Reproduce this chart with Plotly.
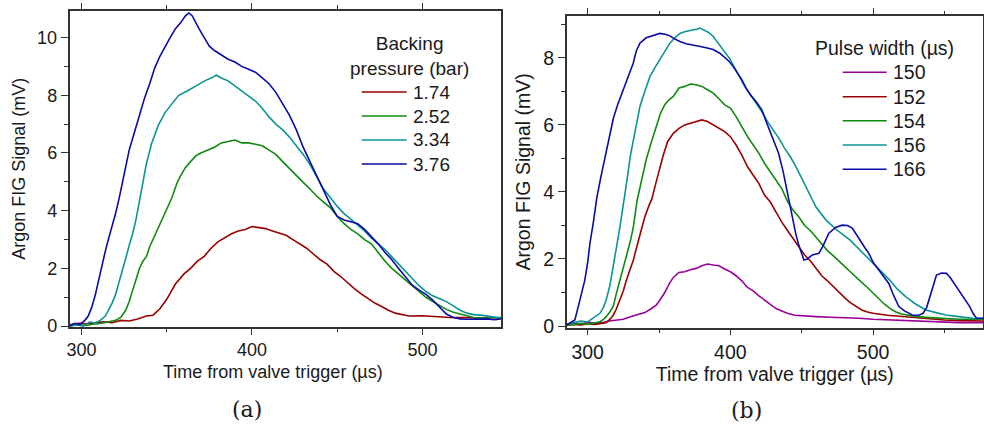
import plotly.graph_objects as go

# ---------------- data: panel (a) backing pressure ----------------
pressure_labels = ["1.74", "2.52", "3.34", "3.76"]

t_a_174 = [293, 298, 303, 308, 313, 318, 323, 328, 333, 338, 342, 346, 350, 355, 360, 364, 368, 372, 376, 380,
           384, 388, 392, 396, 400, 404, 408, 412, 416, 420, 424, 428, 432, 436, 440, 444, 448, 452, 456, 460,
           464, 468, 472, 476, 480, 484, 488, 492, 500, 508, 516, 524, 532, 540, 546]
v_a_174 = [0.05, 0.10, 0.08, 0.12, 0.15, 0.12, 0.20, 0.18, 0.25, 0.35, 0.38, 0.60, 0.93, 1.45, 1.80, 2.00, 2.25, 2.42, 2.70, 2.92,
           3.05, 3.20, 3.30, 3.35, 3.45, 3.42, 3.38, 3.30, 3.22, 3.15, 3.00, 2.85, 2.70, 2.50, 2.30, 2.15, 1.90, 1.72, 1.50, 1.30,
           1.12, 0.95, 0.80, 0.68, 0.55, 0.45, 0.40, 0.35, 0.36, 0.33, 0.30, 0.30, 0.28, 0.30, 0.28]

t_a_252 = [293, 298, 303, 308, 312, 316, 320, 323, 326, 328, 330, 332, 334, 336, 338, 340, 342, 345, 348, 350,
           353, 356, 358, 361, 364, 367, 370, 374, 378, 382, 386, 390, 394, 398, 402, 406, 410, 414, 418, 422,
           426, 430, 434, 438, 442, 446, 450, 454, 458, 462, 466, 470, 474, 478, 482, 486, 490, 494, 498, 502,
           506, 510, 514, 518, 522, 526, 530, 536, 542, 546]
v_a_252 = [0.00, 0.05, 0.02, 0.08, 0.10, 0.15, 0.20, 0.30, 0.55, 0.85, 1.25, 1.65, 2.00, 2.25, 2.40, 2.75, 3.00, 3.40, 3.75, 4.05,
           4.45, 4.95, 5.20, 5.50, 5.70, 5.90, 6.00, 6.10, 6.20, 6.35, 6.40, 6.45, 6.35, 6.35, 6.30, 6.25, 6.10, 5.95, 5.70, 5.45,
           5.20, 4.98, 4.75, 4.50, 4.30, 4.10, 3.80, 3.55, 3.35, 3.20, 3.00, 2.85, 2.55, 2.25, 2.00, 1.80, 1.60, 1.40, 1.20, 1.00,
           0.85, 0.70, 0.58, 0.48, 0.42, 0.35, 0.30, 0.28, 0.28, 0.30]

t_a_334 = [293, 297, 301, 305, 308, 311, 314, 316, 318, 320, 322, 324, 326, 328, 330, 332, 334, 336, 338, 341,
           345, 349, 353, 357, 362, 366, 370, 374, 377, 379, 382, 386, 390, 394, 398, 402, 406, 410, 414, 418,
           422, 426, 430, 434, 438, 442, 446, 450, 454, 458, 462, 466, 470, 474, 478, 482, 486, 490, 494, 498,
           502, 506, 510, 514, 518, 522, 526, 530, 534, 538, 542, 546]
v_a_334 = [0.02, 0.05, 0.00, 0.15, 0.10, 0.20, 0.35, 0.55, 0.80, 1.10, 1.50, 1.90, 2.35, 2.80, 3.20, 3.70, 4.30, 4.95, 5.60, 6.30,
           6.95, 7.40, 7.70, 8.00, 8.15, 8.30, 8.42, 8.55, 8.62, 8.70, 8.60, 8.50, 8.32, 8.15, 7.95, 7.80, 7.55, 7.25, 7.00, 6.80,
           6.55, 6.25, 5.95, 5.60, 5.15, 4.75, 4.45, 4.15, 3.90, 3.70, 3.50, 3.30, 3.05, 2.85, 2.65, 2.40, 2.15, 1.90, 1.65, 1.40,
           1.20, 1.05, 0.95, 0.85, 0.70, 0.55, 0.45, 0.40, 0.38, 0.35, 0.30, 0.28]

t_a_376 = [293, 296, 299, 302, 304, 306, 308, 310, 312, 314, 316, 318, 320, 322, 324, 326, 328, 331, 334, 337,
           340, 343, 346, 349, 352, 355, 358, 361, 363, 365, 367, 369, 372, 375, 378, 382, 386, 390, 394, 398,
           402, 406, 410, 414, 418, 422, 426, 430, 434, 438, 442, 446, 450, 454, 458, 462, 466, 470, 474, 478,
           482, 486, 490, 494, 498, 502, 506, 510, 514, 518, 522, 526, 532, 538, 542, 546]
v_a_376 = [0.00, 0.10, 0.05, 0.20, 0.35, 0.65, 1.05, 1.60, 2.15, 2.60, 3.05, 3.45, 3.90, 4.40, 5.00, 5.60, 6.10, 6.70, 7.30, 7.90,
           8.40, 8.95, 9.35, 9.70, 10.00, 10.30, 10.50, 10.75, 10.85, 10.75, 10.50, 10.30, 10.00, 9.70, 9.55, 9.40, 9.25, 9.15, 9.00, 8.90,
           8.80, 8.60, 8.40, 8.10, 7.70, 7.30, 6.80, 6.20, 5.70, 5.20, 4.70, 4.20, 3.80, 3.68, 3.62, 3.55, 3.35, 3.10, 2.85, 2.55,
           2.30, 2.00, 1.70, 1.42, 1.25, 1.10, 0.90, 0.65, 0.42, 0.30, 0.25, 0.24, 0.25, 0.25, 0.22, 0.25]

# ---------------- data: panel (b) pulse width ----------------
pulse_labels = ["150", "152", "154", "156", "166"]

t_b_150 = [285, 290, 295, 300, 305, 310, 315, 320, 325, 330, 335, 340, 344, 348, 351, 354, 357, 360, 364, 368,
           372, 376, 380, 384, 388, 392, 396, 400, 404, 408, 412, 416, 420, 424, 428, 432, 436, 440, 445, 450,
           460, 470, 480, 490, 500, 510, 520, 530, 540, 550, 560, 570, 577]
v_b_150 = [0.05, 0.10, 0.05, 0.12, 0.08, 0.10, 0.15, 0.18, 0.20, 0.28, 0.35, 0.40, 0.50, 0.62, 0.80, 1.00, 1.25, 1.45, 1.60, 1.62,
           1.68, 1.72, 1.80, 1.85, 1.82, 1.80, 1.70, 1.62, 1.50, 1.35, 1.15, 1.05, 0.90, 0.78, 0.65, 0.52, 0.45, 0.38, 0.32, 0.30,
           0.28, 0.26, 0.25, 0.23, 0.20, 0.18, 0.16, 0.14, 0.12, 0.12, 0.10, 0.10, 0.10]

t_b_152 = [285, 290, 295, 300, 305, 310, 313, 316, 318, 320, 322.6, 325, 327, 330, 332, 334, 337, 340, 343, 345,
           348, 351, 353, 356, 360, 364, 368, 372, 376, 380, 384, 388, 392, 396, 400, 404, 408, 412, 416, 420,
           424, 428, 432, 436, 440, 444, 448, 452, 456, 460, 464, 468, 472, 476, 480, 484, 488, 492, 496, 500,
           510, 520, 530, 540, 550, 560, 570, 577]
v_b_152 = [0.02, 0.05, 0.03, 0.06, 0.05, 0.08, 0.10, 0.22, 0.33, 0.50, 0.78, 1.05, 1.35, 1.70, 1.97, 2.30, 2.80, 3.25, 3.60, 3.80,
           4.30, 4.80, 5.10, 5.50, 5.75, 5.90, 6.00, 6.05, 6.10, 6.15, 6.10, 6.00, 5.90, 5.80, 5.65, 5.40, 5.10, 4.75, 4.50, 4.25,
           3.90, 3.70, 3.40, 3.10, 2.85, 2.60, 2.35, 2.12, 1.95, 1.72, 1.50, 1.35, 1.18, 1.00, 0.85, 0.70, 0.58, 0.48, 0.42, 0.38,
           0.32, 0.28, 0.24, 0.20, 0.18, 0.16, 0.15, 0.15]

t_b_154 = [285, 290, 295, 300, 305, 308.6, 311, 313, 316, 318, 320, 322.6, 325, 327, 330, 332, 334.7, 337, 339, 341,
           344, 348, 351, 354, 357, 360, 364, 368, 372, 376, 380, 384, 388, 392, 396, 400, 404, 408, 412, 416,
           420, 424, 428, 432, 436, 440, 444, 448, 452, 456, 460, 464, 468, 472, 476, 480, 484, 488, 492, 496,
           500, 504, 508, 512, 516, 520, 524, 530, 540, 550, 560, 570, 577]
v_b_154 = [0.02, 0.05, 0.08, 0.05, 0.10, 0.13, 0.20, 0.28, 0.45, 0.60, 0.95, 1.37, 1.70, 2.05, 2.55, 2.96, 3.76, 4.20, 4.60, 4.96,
           5.40, 5.95, 6.35, 6.60, 6.75, 6.85, 7.10, 7.15, 7.22, 7.20, 7.15, 7.05, 6.95, 6.78, 6.60, 6.50, 6.25, 5.95, 5.65, 5.40,
           5.15, 4.85, 4.60, 4.35, 4.10, 3.72, 3.45, 3.25, 3.00, 2.85, 2.65, 2.45, 2.25, 2.10, 1.95, 1.78, 1.62, 1.45, 1.30, 1.15,
           0.98, 0.82, 0.65, 0.52, 0.42, 0.36, 0.32, 0.28, 0.25, 0.22, 0.20, 0.20, 0.20]

t_b_156 = [285, 290, 295, 300, 304, 306, 308.6, 311, 313, 315.5, 318, 320, 322.6, 325, 327, 330, 332, 334.5, 336.6, 340,
           343.6, 347, 350.6, 354, 357.6, 361, 364.6, 368, 371, 374, 376, 378.6, 382, 385, 388, 392, 396, 400, 403, 406,
           410, 414, 418, 422, 426, 430, 434, 438, 442, 446, 450, 455, 460, 467, 475, 483.7, 490, 500, 506, 511.7,
           517, 523, 530, 537, 544, 551, 560, 570, 577]
v_b_156 = [0.05, 0.10, 0.15, 0.12, 0.23, 0.30, 0.38, 0.55, 0.78, 1.20, 1.77, 2.30, 2.96, 3.60, 4.20, 5.10, 5.55, 6.10, 6.55, 7.00,
           7.44, 7.70, 7.94, 8.20, 8.44, 8.60, 8.73, 8.78, 8.82, 8.84, 8.85, 8.89, 8.82, 8.75, 8.64, 8.42, 8.20, 7.95, 7.70, 7.45,
           7.15, 6.90, 6.65, 6.40, 6.10, 5.85, 5.60, 5.30, 5.05, 4.75, 4.40, 3.95, 3.55, 3.16, 2.85, 2.57, 2.30, 1.87, 1.60, 1.37,
           1.10, 0.87, 0.65, 0.48, 0.40, 0.33, 0.28, 0.23, 0.22]

t_b_166 = [285, 288, 291, 293.4, 296, 298, 300, 301.6, 304, 306.3, 309, 312, 315.6, 318, 321, 324.9, 328, 331.9, 334, 336.6,
           341, 345, 350.6, 355, 358, 360, 364.6, 369, 374, 378, 383, 388, 392.6, 396, 399, 402, 405, 408, 411, 414,
           418, 422, 426, 430, 433.7, 437, 439.5, 441, 443.5, 445.7, 448, 451.5, 454, 457.4, 462, 465, 469, 474, 478.4, 482,
           485.4, 490, 494, 497, 500, 504, 508, 511, 514, 518, 522, 527.4, 532, 535, 537.5, 539.7, 542, 544.4, 548, 551.4,
           554, 558.4, 562, 565, 567.7, 570, 572.4, 577]
v_b_166 = [0.02, 0.10, 0.18, 0.58, 1.00, 1.37, 1.90, 2.47, 3.10, 3.80, 4.40, 5.00, 5.75, 6.20, 6.60, 7.04, 7.40, 7.84, 8.20, 8.44,
           8.60, 8.65, 8.73, 8.70, 8.65, 8.59, 8.49, 8.42, 8.39, 8.35, 8.30, 8.25, 8.14, 8.00, 7.90, 7.74, 7.55, 7.35, 7.10, 6.90,
           6.70, 6.45, 6.00, 5.55, 5.16, 4.60, 4.06, 3.76, 3.20, 2.77, 2.40, 1.97, 2.00, 2.12, 2.17, 2.40, 2.77, 2.95, 3.01, 3.00,
           2.92, 2.60, 2.35, 2.17, 1.90, 1.67, 1.45, 1.27, 0.95, 0.58, 0.45, 0.33, 0.32, 0.38, 0.55, 0.87, 1.20, 1.52, 1.58, 1.57,
           1.45, 1.17, 0.95, 0.75, 0.58, 0.38, 0.23, 0.23]

colors_a = ["#990000", "#0f8a0f", "#0c9494", "#0a0aa6"]
colors_b = ["#990099", "#990000", "#0f8a0f", "#0c9494", "#0a0aa6"]

series_a = [(t_a_174, v_a_174), (t_a_252, v_a_252), (t_a_334, v_a_334), (t_a_376, v_a_376)]
series_b = [(t_b_150, v_b_150), (t_b_152, v_b_152), (t_b_154, v_b_154), (t_b_156, v_b_156), (t_b_166, v_b_166)]

FONT = "Liberation Sans"
TXT = "#1a1a1a"
AX = "#333333"
W, H = 984, 427
X_TITLE = "Time from valve trigger (µs)"
Y_TITLE = "Argon FIG Signal (mV)"

fig = go.Figure()
for (t, v), name, c in zip(series_a, pressure_labels, colors_a):
    fig.add_trace(go.Scatter(x=t, y=v, mode="lines", name=name, line=dict(color=c, width=1.6),
                             xaxis="x", yaxis="y", showlegend=False))
for (t, v), name, c in zip(series_b, pulse_labels, colors_b):
    fig.add_trace(go.Scatter(x=t, y=v, mode="lines", name=name, line=dict(color=c, width=1.6),
                             xaxis="x2", yaxis="y2", showlegend=False))

def px(x):
    return x / W

def py(y):
    return 1 - y / H

def xax(domain, rng, anchor, fs, title):
    d = dict(domain=domain, range=rng, anchor=anchor, showgrid=False, zeroline=False, automargin=False,
             showline=True, linecolor=AX, linewidth=1.5, mirror="allticks",
             ticks="outside", ticklen=6, tickwidth=1.3, tickcolor=AX, dtick=100, tick0=0,
             minor=dict(ticks="outside", ticklen=3.5, dtick=50, tick0=0, tickcolor=AX, tickwidth=1.2),
             tickfont=dict(family=FONT, size=fs, color=TXT))
    if title:
        d["title"] = dict(text=X_TITLE, font=dict(family=FONT, size=fs, color=TXT), standoff=0)
    return d

def yax(domain, rng, anchor, fs):
    return dict(domain=domain, range=rng, anchor=anchor, showgrid=False, zeroline=False, automargin=False,
                showline=True, linecolor=AX, linewidth=1.5, mirror=True,
                ticks="outside", ticklen=7, tickwidth=1.3, tickcolor=AX, dtick=2, tick0=0,
                minor=dict(ticks="outside", ticklen=4, dtick=1, tick0=0, tickcolor=AX, tickwidth=1.2),
                tickfont=dict(family=FONT, size=fs, color=TXT),
                title=dict(text=Y_TITLE, font=dict(family=FONT, size=fs, color=TXT), standoff=7))

def yin(domain, rng, anchor, over):
    return dict(domain=domain, range=rng, anchor=anchor, overlaying=over, side="right", automargin=False,
                showgrid=False, zeroline=False, showline=False, showticklabels=False,
                ticks="inside", ticklen=7, tickwidth=1.3, tickcolor=AX, dtick=2, tick0=0)

dom_ax = [px(69.5), px(501)]
dom_ay = [py(327), py(10.7)]
dom_bx = [px(566.7), px(983)]
dom_by = [py(327.7), py(16)]
rng_ax = [293, 546]
rng_ay = [-0.03, 10.93]
rng_bx = [285.3, 577]
rng_by = [-0.05, 9.25]

shapes = []
annotations = []

def add_legend(title, title_x, title_y, labels, colors, ys, x0, x1, tx, fs):
    annotations.append(dict(text=title, x=px(title_x), y=py(title_y), xref="paper", yref="paper",
                            xanchor="center", yanchor="middle", showarrow=False, align="center",
                            font=dict(family=FONT, size=fs, color=TXT)))
    for lab, c, yy in zip(labels, colors, ys):
        shapes.append(dict(type="line", xref="paper", yref="paper", x0=px(x0), x1=px(x1),
                           y0=py(yy), y1=py(yy), line=dict(color=c, width=1.6)))
        annotations.append(dict(text=lab, x=px(tx), y=py(yy), xref="paper", yref="paper",
                                xanchor="left", yanchor="middle", showarrow=False,
                                font=dict(family=FONT, size=fs, color=TXT)))

add_legend("Backing<br>pressure (bar)", 409, 55.5, pressure_labels, colors_a,
           [92, 116, 140, 164], 361.7, 406.7, 411, 19)
add_legend("Pulse width (µs)", 884, 48.3, pulse_labels, colors_b,
           [72.3, 96.7, 120.7, 145, 169.3], 842.7, 886.7, 891, 19.5)

# x-axis title of panel (a): sits slightly left of the plot centre in the original
annotations.append(dict(text=X_TITLE, x=px(272.5), y=py(372), xref="paper", yref="paper", showarrow=False,
                        xanchor="center", yanchor="middle", font=dict(family=FONT, size=18, color=TXT)))

annotations.append(dict(text="(a)", x=px(247), y=py(409), xref="paper", yref="paper", showarrow=False,
                        xanchor="center", yanchor="middle", font=dict(family="DejaVu Serif", size=22, color=TXT)))
annotations.append(dict(text="(b)", x=px(746), y=py(410), xref="paper", yref="paper", showarrow=False,
                        xanchor="center", yanchor="middle", font=dict(family="DejaVu Serif", size=22, color=TXT)))

fig.update_layout(
    width=W, height=H, margin=dict(l=0, r=0, t=0, b=0, autoexpand=False),
    paper_bgcolor="white", plot_bgcolor="white", showlegend=False,
    xaxis=xax(dom_ax, rng_ax, "y", 18, False),
    yaxis=yax(dom_ay, rng_ay, "x", 18),
    xaxis2=xax(dom_bx, rng_bx, "y2", 19.5, True),
    yaxis2=yax(dom_by, rng_by, "x2", 19.5),
    yaxis3=yin(dom_ay, rng_ay, "x", "y"),
    yaxis4=yin(dom_by, rng_by, "x2", "y2"),
    shapes=shapes, annotations=annotations,
)

fig.write_html("out.html")
